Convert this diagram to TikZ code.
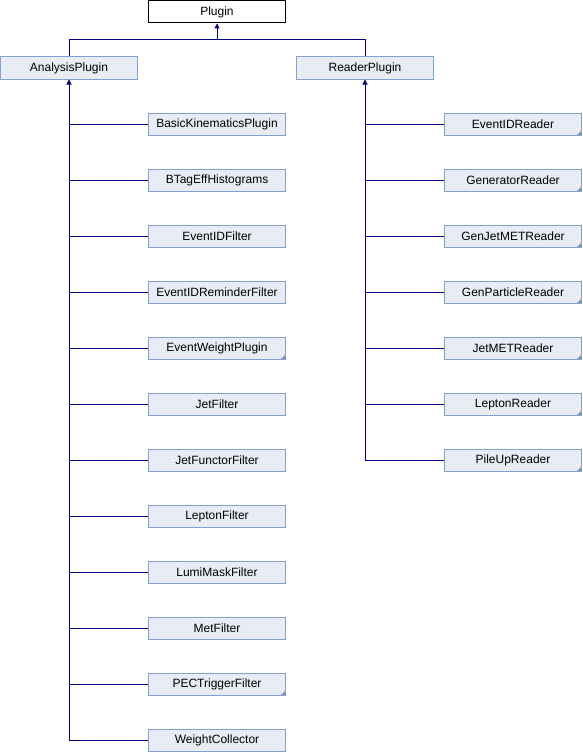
\documentclass[tikz,border=0pt]{standalone}
\usepackage{fontspec}
\setmainfont{Liberation Sans}
\usetikzlibrary{arrows.meta}
\definecolor{boxfill}{HTML}{E8ECF5}
\definecolor{boxline}{HTML}{84A0D0}
\definecolor{linkcol}{HTML}{000080}
\definecolor{earcol}{HTML}{6F8FC8}
\newcommand{\dogear}[1]{\fill[earcol] ([shift={(-1,-1)}]#1.south east) -- ++(-4,0) -- ++(4,-4) -- cycle;}

\begin{document}
\begin{tikzpicture}[x=1pt,y=-1pt,
  cls/.style={draw=boxline,fill=boxfill,line width=1pt,minimum width=137pt,minimum height=22pt,inner sep=0pt,font=\fontsize{12}{13}\selectfont},
  top/.style={cls,draw=black,fill=white},
  link/.style={draw=linkcol,line width=1pt},
  inh/.style={link,-{Triangle[length=5pt,width=5pt]}}]
\useasboundingbox (0,0) rectangle (582,752);

\node[top] (plugin) at (217,12) {Plugin};
\node[cls] (analysis) at (69,68) {AnalysisPlugin};
\node[cls] (reader) at (365,68) {ReaderPlugin};
\coordinate (bus) at (217,40);

\node[cls] (basickin) at (217,124.5) {BasicKinematicsPlugin};
\node[cls] (btag) at (217,180.5) {BTagEffHistograms};
\node[cls] (idfilter) at (217,236.5) {EventIDFilter};
\node[cls] (idremind) at (217,292.5) {EventIDReminderFilter};
\node[cls] (weightplug) at (217,348.5) {EventWeightPlugin};
\node[cls] (jetfilter) at (217,404.5) {JetFilter};
\node[cls] (jetfunctor) at (217,460.5) {JetFunctorFilter};
\node[cls] (lepfilter) at (217,516.5) {LeptonFilter};
\node[cls] (lumimask) at (217,572.5) {LumiMaskFilter};
\node[cls] (metfilter) at (217,628.5) {MetFilter};
\node[cls] (pectrig) at (217,684.5) {PECTriggerFilter};
\node[cls] (weightcoll) at (217,740.5) {WeightCollector};

\node[cls] (idreader) at (513,124.5) {EventIDReader};
\node[cls] (genreader) at (513,180.5) {GeneratorReader};
\node[cls] (genjet) at (513,236.5) {GenJetMETReader};
\node[cls] (genpart) at (513,292.5) {GenParticleReader};
\node[cls] (jetmet) at (513,348.5) {JetMETReader};
\node[cls] (lepreader) at (513,404.5) {LeptonReader};
\node[cls] (pileup) at (513,460.5) {PileUpReader};

% corner marks
\dogear{weightplug}
\dogear{pectrig}
\dogear{idreader}
\dogear{genreader}
\dogear{genjet}
\dogear{genpart}
\dogear{jetmet}
\dogear{lepreader}
\dogear{pileup}

% base classes
\draw[inh] (analysis.north) |- (bus) -- (plugin.south);
\draw[link] (reader.north) |- (bus);

% analysis plugins
\draw[inh] (weightcoll.west) -| (analysis.south);
\draw[link] (basickin.west) -- (basickin.west -| analysis.south);
\draw[link] (btag.west) -- (btag.west -| analysis.south);
\draw[link] (idfilter.west) -- (idfilter.west -| analysis.south);
\draw[link] (idremind.west) -- (idremind.west -| analysis.south);
\draw[link] (weightplug.west) -- (weightplug.west -| analysis.south);
\draw[link] (jetfilter.west) -- (jetfilter.west -| analysis.south);
\draw[link] (jetfunctor.west) -- (jetfunctor.west -| analysis.south);
\draw[link] (lepfilter.west) -- (lepfilter.west -| analysis.south);
\draw[link] (lumimask.west) -- (lumimask.west -| analysis.south);
\draw[link] (metfilter.west) -- (metfilter.west -| analysis.south);
\draw[link] (pectrig.west) -- (pectrig.west -| analysis.south);

% readers
\draw[inh] (pileup.west) -| (reader.south);
\draw[link] (idreader.west) -- (idreader.west -| reader.south);
\draw[link] (genreader.west) -- (genreader.west -| reader.south);
\draw[link] (genjet.west) -- (genjet.west -| reader.south);
\draw[link] (genpart.west) -- (genpart.west -| reader.south);
\draw[link] (jetmet.west) -- (jetmet.west -| reader.south);
\draw[link] (lepreader.west) -- (lepreader.west -| reader.south);
\end{tikzpicture}
\end{document}
